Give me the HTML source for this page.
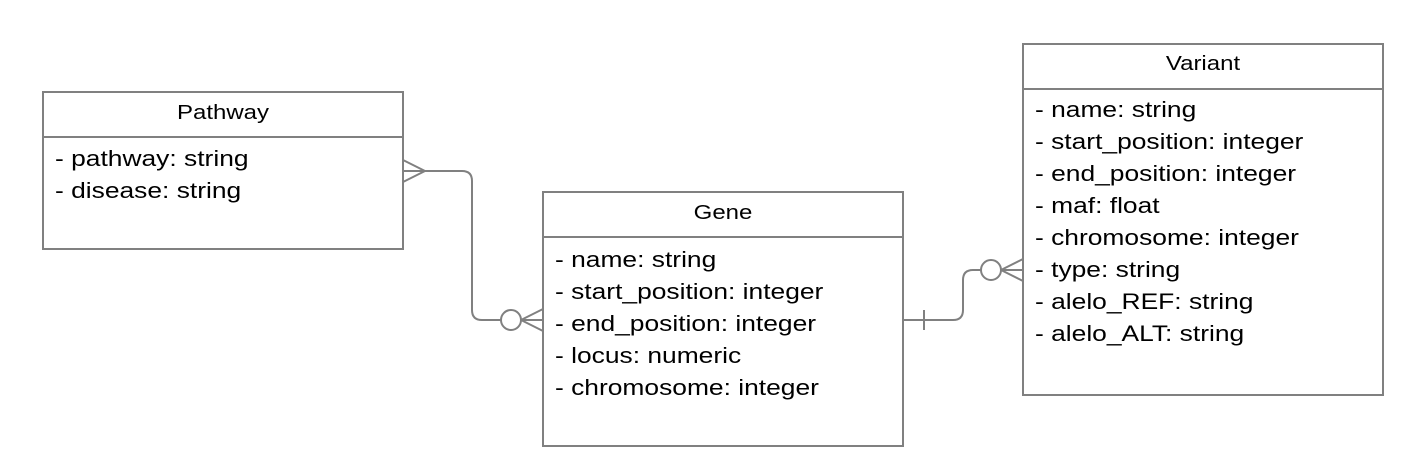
<!DOCTYPE html>
<html><head><meta charset="utf-8"><style>
html,body{margin:0;padding:0;background:#fff;}
svg{display:block;}
.h{font-family:"Liberation Sans",sans-serif;font-size:20px;fill:#000;text-anchor:middle;}
.a{font-family:"Liberation Sans",sans-serif;font-size:22px;fill:#000;}
</style></head><body>
<svg width="1423" height="471" viewBox="0 0 1423 471" xmlns="http://www.w3.org/2000/svg">
<g fill="#fff" stroke="#808080" stroke-width="2">
<rect x="43" y="92" width="360" height="157"/>
<line x1="43" y1="137" x2="403" y2="137"/>
<rect x="543" y="192" width="360" height="254"/>
<line x1="543" y1="237" x2="903" y2="237"/>
<rect x="1023" y="44" width="360" height="351"/>
<line x1="1023" y1="89" x2="1383" y2="89"/>
</g>
<g fill="none" stroke="#808080" stroke-width="2">
<path d="M425 171 H462 Q472 171 472 181 V310 Q472 320 482 320 H501"/>
<line x1="403" y1="160" x2="425" y2="171"/><line x1="403" y1="171" x2="425" y2="171"/><line x1="403" y1="182" x2="425" y2="171"/>
<circle cx="511" cy="320" r="10"/>
<line x1="521" y1="320" x2="543" y2="309"/><line x1="521" y1="320" x2="543" y2="320"/><line x1="521" y1="320" x2="543" y2="331"/>
<path d="M903 320 H953 Q963 320 963 310 V280 Q963 270 973 270 H981"/>
<line x1="924" y1="310" x2="924" y2="330"/>
<circle cx="991" cy="270" r="10"/>
<line x1="1001" y1="270" x2="1023" y2="259"/><line x1="1001" y1="270" x2="1023" y2="270"/><line x1="1001" y1="270" x2="1023" y2="281"/>
</g>
<text class="h" transform="translate(223,119) scale(1.2,1)">Pathway</text>
<text class="a" transform="translate(55,166) scale(1.2,1)">- pathway: string</text>
<text class="a" transform="translate(55,198) scale(1.2,1)">- disease: string</text>
<text class="h" transform="translate(723,219) scale(1.2,1)">Gene</text>
<text class="a" transform="translate(555,267) scale(1.2,1)">- name: string</text>
<text class="a" transform="translate(555,299) scale(1.2,1)">- start_position: integer</text>
<text class="a" transform="translate(555,331) scale(1.2,1)">- end_position: integer</text>
<text class="a" transform="translate(555,363) scale(1.2,1)">- locus: numeric</text>
<text class="a" transform="translate(555,395) scale(1.2,1)">- chromosome: integer</text>
<text class="h" transform="translate(1203,70) scale(1.2,1)">Variant</text>
<text class="a" transform="translate(1035,117) scale(1.2,1)">- name: string</text>
<text class="a" transform="translate(1035,149) scale(1.2,1)">- start_position: integer</text>
<text class="a" transform="translate(1035,181) scale(1.2,1)">- end_position: integer</text>
<text class="a" transform="translate(1035,213) scale(1.2,1)">- maf: float</text>
<text class="a" transform="translate(1035,245) scale(1.2,1)">- chromosome: integer</text>
<text class="a" transform="translate(1035,277) scale(1.2,1)">- type: string</text>
<text class="a" transform="translate(1035,309) scale(1.2,1)">- alelo_REF: string</text>
<text class="a" transform="translate(1035,341) scale(1.2,1)">- alelo_ALT: string</text>
</svg>
</body></html>
